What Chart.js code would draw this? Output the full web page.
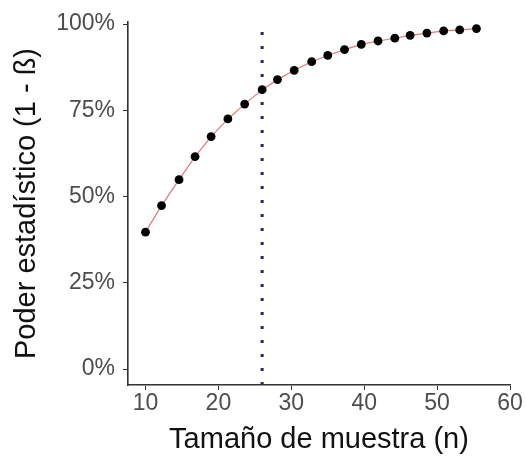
<!DOCTYPE html>
<html>
<head>
<meta charset="utf-8">
<script src="https://cdn.jsdelivr.net/npm/chart.js@4/dist/chart.umd.min.js"></script>
<style>
  body { margin: 0; background: #fff; }
  #wrap { width: 526px; height: 459px; }
</style>
</head>
<body>
<div id="wrap"><canvas id="powerChart" width="526" height="459"></canvas></div>
<script>
// Sample sizes and power (%)
const sampleSizes = [10, 12.2, 14.6, 16.8, 19.0, 21.3, 23.6, 26.0, 28.1, 30.4, 32.8, 35.0, 37.3, 39.6, 41.9, 44.2, 46.3, 48.6, 50.9, 53.1, 55.4];
const powerValues = [39.7, 47.4, 54.9, 61.6, 67.4, 72.5, 76.8, 81.0, 83.9, 86.6, 89.1, 90.9, 92.6, 94.1, 95.1, 95.9, 96.7, 97.4, 98.0, 98.3, 98.7];
const cutoffN = 26;
const xTicks = [10, 20, 30, 40, 50, 60];
const yTicks = [0, 25, 50, 75, 100];

const font = "'Liberation Sans', Arial, sans-serif";
const yMin = -4.6, yMax = 100.6;

const ctx = document.getElementById('powerChart').getContext('2d');
const powerChart = new Chart(ctx, {
    type: 'scatter',
    data: {
        datasets: [{
            type: 'line',
            data: sampleSizes.map((n, i) => ({ x: n, y: powerValues[i] })),
            borderColor: '#e07a7a',
            borderWidth: 1.2,
            pointRadius: 4.4,
            pointBackgroundColor: '#000',
            pointBorderWidth: 0,
            fill: false,
            order: 1
        }, {
            // reference line at the chosen sample size
            type: 'line',
            data: [{ x: cutoffN, y: yMin }, { x: cutoffN, y: yMax }],
            borderColor: '#26265a',
            borderWidth: 3,
            borderDash: [3, 11],
            pointRadius: 0,
            fill: false,
            order: 2
        }]
    },
    options: {
        responsive: false,
        animation: false,
        layout: {
            padding: { top: 22, right: 16, left: 10, bottom: 0 }
        },
        plugins: {
            legend: { display: false },
            tooltip: { enabled: false }
        },
        scales: {
            x: {
                type: 'linear',
                min: 7.6,
                max: 60,
                afterBuildTicks: axis => { axis.ticks = xTicks.map(v => ({ value: v })); },
                afterFit: scale => { scale.height = 74; },
                grid: {
                    drawOnChartArea: false,
                    drawTicks: true,
                    tickLength: 5,
                    color: '#333'
                },
                border: { display: true, color: '#333', width: 1.6 },
                ticks: {
                    color: '#4d4d4d',
                    font: { family: font, size: 23 },
                    padding: 0,
                    maxRotation: 0
                },
                title: {
                    display: true,
                    text: 'Tamaño de muestra (n)',
                    color: '#111',
                    font: { family: font, size: 29 },
                    padding: { top: 0, bottom: 2 }
                }
            },
            y: {
                min: yMin,
                max: yMax,
                afterBuildTicks: axis => { axis.ticks = yTicks.map(v => ({ value: v })); },
                afterFit: scale => { scale.width = 118; },
                grid: {
                    drawOnChartArea: false,
                    drawTicks: true,
                    tickLength: 5,
                    color: '#333'
                },
                border: { display: true, color: '#333', width: 1.6 },
                ticks: {
                    color: '#4d4d4d',
                    font: { family: font, size: 23 },
                    padding: 8,
                    callback: v => v + '%'
                },
                title: {
                    display: true,
                    text: 'Poder estadístico (1 - ß)',
                    color: '#111',
                    font: { family: font, size: 29 },
                    padding: { top: 0, bottom: 0 }
                }
            }
        }
    }
});
</script>
</body>
</html>
